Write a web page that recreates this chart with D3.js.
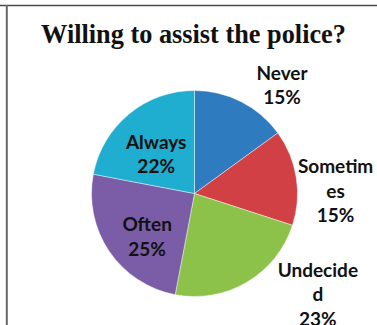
<!DOCTYPE html>
<html>
<head>
<meta charset="utf-8">
<script src="https://cdn.jsdelivr.net/npm/d3@7"></script>
<style>
  html, body { margin: 0; padding: 0; background: #fff; }
  svg { display: block; }
</style>
</head>
<body>
<svg id="chart" width="377" height="325"></svg>
<script>
// Survey answers, clockwise from 12 o'clock
const categories = ["Never", "Sometimes", "Undecided", "Often", "Always"];
const shares = [15, 15, 23, 25, 22];
// Category names as wrapped in the labels
const labelLines = [["Never"], ["Sometim", "es"], ["Undecide", "d"], ["Often"], ["Always"]];
const title = "Willing to assist the police?";

const colors = ["#2f7bbf", "#d04045", "#8cc24a", "#7a5da6", "#1fadd0"];
// Label placement: radius as fraction of pie radius, angular nudge in degrees
const labelPlace = [
  { r: 1.35, da: 12 },
  { r: 1.37, da: 8 },
  { r: 1.55, da: -20 },
  { r: 0.626, da: -8.5 },
  { r: 0.53, da: -5 }
];

const W = 377, H = 325;
const cx = 194.5, cy = 193.5, R = 103;

const svg = d3.select("#chart");

// frame lines
svg.append("line").attr("x1", 0).attr("x2", W).attr("y1", 5.5).attr("y2", 5.5)
  .attr("stroke", "#4a4a4a").attr("stroke-width", 1.5);
svg.append("line").attr("x1", 6.8).attr("x2", 6.8).attr("y1", 5).attr("y2", H)
  .attr("stroke", "#666").attr("stroke-width", 2);

svg.append("text")
  .attr("x", 193.5).attr("y", 43)
  .attr("text-anchor", "middle")
  .attr("font-family", "'Liberation Serif', 'Times New Roman', serif")
  .attr("font-weight", "bold")
  .attr("font-size", 26.3)
  .attr("fill", "#111")
  .text(title);

const data = categories.map((c, i) => ({ name: c, value: shares[i], lines: labelLines[i], i }));

const pie = d3.pie().value(d => d.value).sort(null);
const arcs = pie(data);
const arc = d3.arc().innerRadius(0).outerRadius(R);

const g = svg.append("g").attr("transform", `translate(${cx},${cy})`);

g.selectAll("path.slice")
  .data(arcs)
  .join("path")
  .attr("class", "slice")
  .attr("d", arc)
  .attr("fill", d => colors[d.data.i])
  .attr("stroke", "rgba(255,255,255,0.55)")
  .attr("stroke-width", 0.8);

const lineH = 24.5;
g.selectAll("text.lbl")
  .data(arcs)
  .join("text")
  .attr("class", "lbl")
  .attr("text-anchor", "middle")
  .attr("font-family", "Lato, 'Open Sans', sans-serif")
  .attr("font-weight", "bold")
  .attr("font-size", 19)
  .attr("fill", "#111")
  .each(function (d) {
    const p = labelPlace[d.data.i];
    const mid = (d.startAngle + d.endAngle) / 2 + p.da * Math.PI / 180;
    const rr = R * p.r;
    const x = Math.sin(mid) * rr;
    const y = -Math.cos(mid) * rr;
    const lines = d.data.lines.concat([d.data.value + "%"]);
    const t = d3.select(this);
    const y0 = y - (lines.length - 1) * lineH / 2 + 6.5;
    lines.forEach((ln, k) => {
      t.append("tspan").attr("x", x).attr("y", y0 + k * lineH).text(ln);
    });
  });
</script>
</body>
</html>
